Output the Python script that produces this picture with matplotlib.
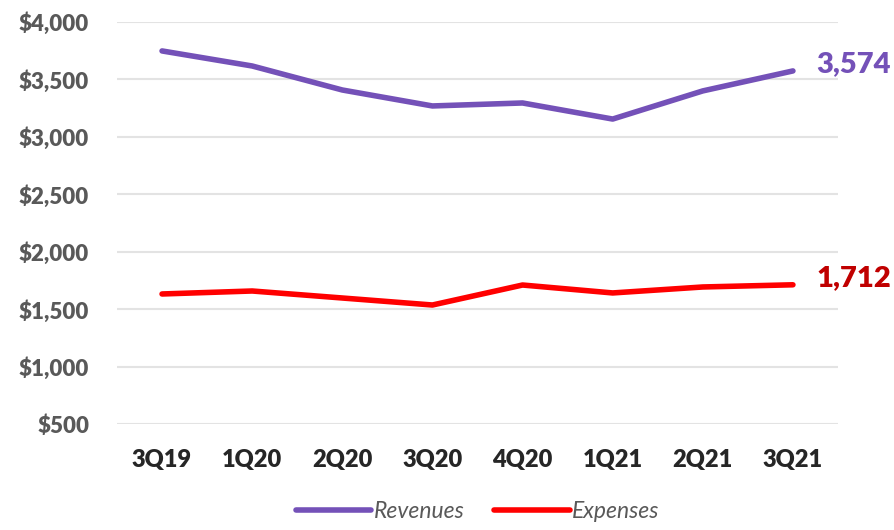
import matplotlib
matplotlib.use("Agg")
import matplotlib.pyplot as plt
from matplotlib.ticker import FuncFormatter

plt.rcParams['font.family'] = ['Lato', 'DejaVu Sans']

# data
quarters = ['3Q19', '1Q20', '2Q20', '3Q20', '4Q20', '1Q21', '2Q21', '3Q21']
revenues = [3748, 3617, 3408, 3269, 3295, 3155, 3400, 3574]
expenses = [1632, 1658, 1597, 1536, 1710, 1641, 1693, 1712]
y_ticks = [500, 1000, 1500, 2000, 2500, 3000, 3500, 4000]

purple = '#7451B8'
red = '#FF0000'

fig = plt.figure(figsize=(8.95, 5.3), dpi=100)
ax = fig.add_axes([0.1307, 0.2, 0.8056, 0.7585])

x = range(len(quarters))
ax.plot(x, revenues, color=purple, lw=4, solid_capstyle='round', label='Revenues')
ax.plot(x, expenses, color=red, lw=4, solid_capstyle='round', label='Expenses')

# end labels
ax.annotate(f"{revenues[-1]:,}", (x[-1], revenues[-1]), xytext=(17, 5), textcoords='offset points',
            color=purple, fontsize=21, fontweight='heavy', va='center', ha='left', annotation_clip=False)
ax.annotate(f"{expenses[-1]:,}", (x[-1], expenses[-1]), xytext=(17, 5), textcoords='offset points',
            color='#C00000', fontsize=21, fontweight='heavy', va='center', ha='left', annotation_clip=False)

ax.set_xlim(-0.5, len(quarters) - 0.5)
ax.set_ylim(500, 4000)
ax.set_yticks(y_ticks)
ax.yaxis.set_major_formatter(FuncFormatter(lambda v, p: f"${v:,.0f}"))
ax.set_xticks(list(x))
ax.set_xticklabels(quarters)

ax.grid(axis='y', color='#E3E3E3', lw=1.5)
ax.set_axisbelow(True)
for s in ax.spines.values():
    s.set_visible(False)
ax.tick_params(length=0)
ax.tick_params(axis='y', labelsize=16, labelcolor='#595959', pad=20)
ax.tick_params(axis='x', labelsize=17, labelcolor='#262626', pad=18)
for t in ax.get_yticklabels() + ax.get_xticklabels():
    t.set_fontweight('heavy')

leg = ax.legend(loc='lower center', bbox_to_anchor=(0.5, -0.295), ncol=2, frameon=False,
                prop={'style': 'italic', 'size': 16.5}, handlelength=3.3, columnspacing=1.3,
                handletextpad=0.1)
for t in leg.get_texts():
    t.set_color('#595959')

fig.savefig('out.png', dpi=100)
